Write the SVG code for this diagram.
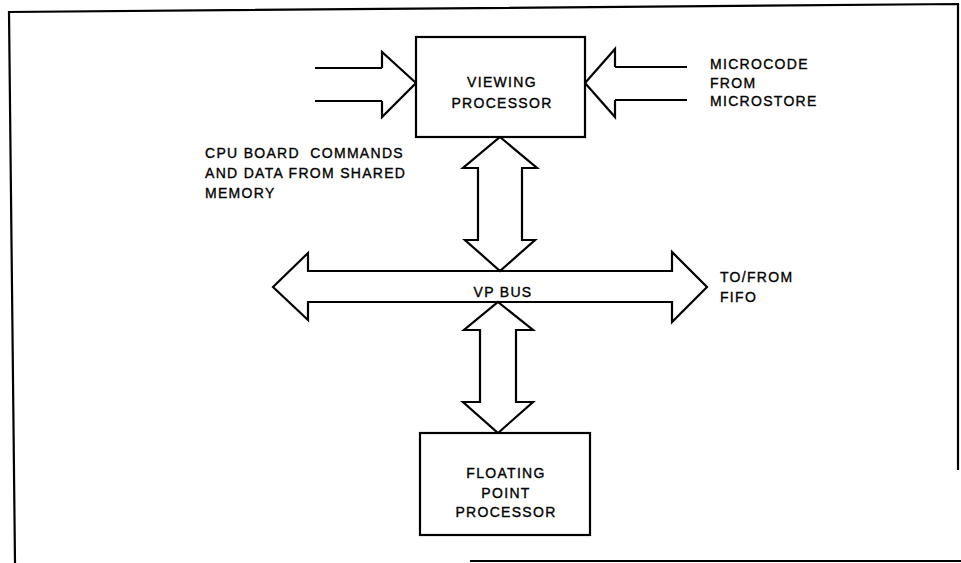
<svg xmlns="http://www.w3.org/2000/svg" width="961" height="563" viewBox="0 0 961 563">
<style>
.ln{fill:none;stroke:#000;stroke-width:2.2;stroke-linejoin:miter}
.ar{fill:#fff;stroke:#000;stroke-width:2.2;stroke-linejoin:miter}
.bx{fill:#fff;stroke:#000;stroke-width:2.2}
text{font-family:"Liberation Sans",Arial,sans-serif;font-size:14px;letter-spacing:1.3px;fill:#000;stroke:#000;stroke-width:0.35}
.c{text-anchor:middle}
</style>
<rect width="961" height="563" fill="#fff"/>
<g id="frame">
<polyline class="ln" points="15,563 9,12 958,4 958,470"/>
<line class="ln" x1="470" y1="561" x2="961" y2="561"/>
</g>
<g id="connectors">
<g id="inputs-left">
<line class="ln" x1="315" y1="68" x2="382" y2="68"/>
<line class="ln" x1="315" y1="101" x2="382" y2="101"/>
<polyline class="ln" points="382,68 382,52 416,83 382,117 382,101"/>
</g>
<g id="inputs-right">
<line class="ln" x1="615" y1="67" x2="687" y2="67"/>
<line class="ln" x1="615" y1="100" x2="687" y2="100"/>
<polyline class="ln" points="615,67 615,49 585,83 615,117 615,100"/>
</g>
<path id="vp-bus" class="ar" d="M273,287 L308,253 L308,271 L672,271 L672,252 L707,287 L672,322 L672,302 L308,302 L308,320 Z"/>
<path id="vp-link" class="ar" d="M500,137 L537,168 L522,168 L522,240 L535,240 L500,271 L465,240 L478,240 L478,168 L463,168 Z"/>
<path id="fpp-link" class="ar" d="M498,302 L533,330 L516,330 L516,402 L533,402 L498,433 L463,402 L480,402 L480,330 L464,330 Z"/>
</g>
<g id="viewing-processor">
<rect class="bx" x="416" y="37" width="169" height="100"/>
<text class="c" x="502" y="87">VIEWING</text>
<text class="c" x="502" y="108">PROCESSOR</text>
</g>
<g id="floating-point-processor">
<rect class="bx" x="420" y="433" width="170" height="102"/>
<text class="c" x="506" y="478">FLOATING</text>
<text class="c" x="506" y="498">POINT</text>
<text class="c" x="506" y="517">PROCESSOR</text>
</g>
<g id="labels">
<text x="710" y="69">MICROCODE</text>
<text x="710" y="88">FROM</text>
<text x="710" y="106">MICROSTORE</text>
<text x="205" y="158" xml:space="preserve">CPU BOARD  COMMANDS</text>
<text x="205" y="178">AND DATA FROM SHARED</text>
<text x="205" y="198">MEMORY</text>
<text class="c" x="503" y="297">VP BUS</text>
<text x="720" y="282">TO/FROM</text>
<text x="720" y="302">FIFO</text>
</g>
</svg>
